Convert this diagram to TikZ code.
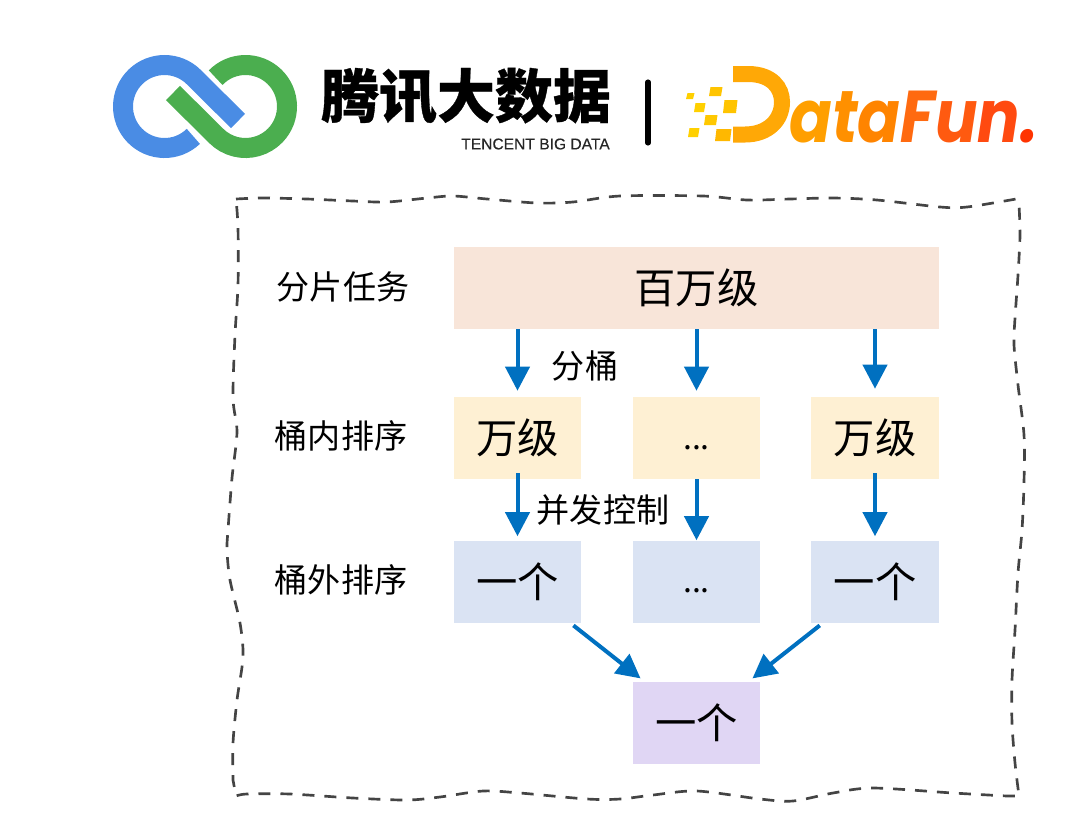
\documentclass[tikz,border=0pt]{standalone}
\usepackage{graphicx}
\usepackage{fontspec}
\setmainfont{Noto Sans CJK SC}
\newfontfamily\latinfont{Liberation Sans}
\newfontfamily\funfont{Poppins}
\usetikzlibrary{calc, arrows.meta}

\definecolor{shardfill}{HTML}{F8E5D9}
\definecolor{bucketfill}{HTML}{FEF0D3}
\definecolor{outerfill}{HTML}{DAE3F3}
\definecolor{mergefill}{HTML}{E0D6F4}
\definecolor{arrowblue}{HTML}{0070C0}
\definecolor{logoblue}{HTML}{4A8CE4}
\definecolor{logogreen}{HTML}{4BAE4F}
\definecolor{frameline}{HTML}{444444}
\definecolor{dshape}{HTML}{FFA806}

\newcommand{\moredots}{\smash{\raisebox{-8.5pt}{\fontsize{24}{24}\selectfont ...}}}

\tikzset{
  box/.style={minimum height=61.5pt, inner sep=0pt, font=\fontsize{31}{31}\selectfont},
  smallbox/.style={box, minimum width=95.5pt},
  rowlabel/.style={inner sep=0pt, font=\fontsize{24.8}{25}\selectfont},
  flow/.style={-{Triangle[length=18pt, width=18pt]}, arrowblue, line width=3pt},
  wavy/.style={frameline, line width=2pt, dash pattern=on 9pt off 7.5pt},
}

\begin{document}
\begin{tikzpicture}[x=0.75pt, y=-0.75pt]
\useasboundingbox (0,0) rectangle (1080,826);

% tencent logo
\coordinate (BC) at (164.5,106.5);
\coordinate (GC) at (245.5,106.5);
\draw[logoblue, line width=15pt]
  ($(BC)+(46:41.5)$) arc[start angle=46, end angle=315, radius=41.5] -- (238,121);
\draw[logogreen, line width=15pt]
  ($(GC)+(-136:41.5)$) arc[start angle=-136, end angle=135, radius=41.5] -- (173,93);
\node[inner sep=0pt, font=\fontsize{43.5}{44}\selectfont\bfseries\addfontfeature{FakeBold=0.6}] (tencent) at (466,96) {腾讯大数据};
\node[inner sep=0pt, font=\fontsize{11.7}{12}\selectfont\latinfont\addfontfeature{FakeBold=0.3}, text=black!85] (bigdata) at (535.5,144) {TENCENT BIG DATA};
\draw[black, line width=3.8pt, line cap=round] (648,82) -- (648,143);

% datafun logo
\foreach \x/\y/\w/\h/\c in {
  709/87/12/9/FFC400, 723/100/13/13/FFC400, 686/93/7/6/FFD000, 694/103/10/9/FFD000,
  704/115/12/10/FFC800, 688/128/10/9/FFD000, 715/129/15/12/FFB800}{
  \definecolor{pixelcol}{HTML}{\c}
  \fill[pixelcol] (\x+1.5,\y) -- ++(\w,0) -- ++(-1.5,\h) -- ++(-\w,0) -- cycle;
}
\draw[draw=dshape, line width=12pt]
  (733,74) -- (748,74) .. controls (772,74) and (782,88) .. (782,102)
  .. controls (782,120) and (768,134.5) .. (745,134.5) -- (733,134.5);
\node[anchor=base west, inner sep=0pt, font=\fontsize{55}{55}\selectfont\funfont\bfseries\itshape] (datafun) at (789,142)
  {\scalebox{0.86}[1]{\textcolor[HTML]{FF9F00}{a}\textcolor[HTML]{FF9000}{t}\textcolor[HTML]{FF8400}{a}\textcolor[HTML]{FF6A10}{F}\textcolor[HTML]{FF5A10}{u}\textcolor[HTML]{FF4A10}{n}\textcolor[HTML]{FF3300}{.}}};

% wavy frame
\draw[wavy] plot[smooth] coordinates {(236,199) (263,198) (307,199) (353,201) (387,202) (427,198) (453,196)
    (487,199) (537,203) (573,202) (620,196) (703,196) (747,200) (790,199) (833,198) (877,200) (940,207) (967,207) (1016,199)}
  -- plot[smooth] coordinates {(1019,205) (1020,235) (1018,275) (1015,318) (1014,345) (1018,385) (1024,435)
    (1024,482) (1022,530) (1018,573) (1015,630) (1012,680) (1012,723) (1015,763) (1019,796)}
  -- plot[smooth] coordinates {(1007,796) (953,793) (873,788) (833,793) (793,801) (760,799) (697,791) (653,795)
    (620,799) (587,799) (520,793) (483,791) (440,797) (407,800) (353,798) (290,794) (247,794) (236,796)}
  -- plot[smooth] coordinates {(233,780) (233,743) (237,700) (243,657) (240,623) (230,580) (227,550) (228,530)
    (232,478) (237,432) (233,398) (235,335) (238,285) (238,228) (236,199)};

% boxes
\node[box, fill=shardfill, minimum width=364pt] (shard) at (696.5,288) {百万级};
\node[smallbox, fill=bucketfill] (bucketA) at (517.5,438) {万级};
\node[smallbox, fill=bucketfill] (bucketB) at (696.5,438) {\moredots};
\node[smallbox, fill=bucketfill] (bucketC) at (875,438) {万级};
\node[smallbox, fill=outerfill] (outerA) at (517.5,581.5) {一个};
\node[smallbox, fill=outerfill] (outerB) at (696.5,581.5) {\moredots};
\node[smallbox, fill=outerfill] (outerC) at (875,581.5) {一个};
\node[smallbox, fill=mergefill] (merge) at (696.5,723) {一个};

% labels
\node[rowlabel] (labelshard) at (343,287) {分片任务};
\node[rowlabel] (labelinner) at (341,436) {桶内排序};
\node[rowlabel] (labelouter) at (341,580) {桶外排序};
\node[rowlabel] (labelsplit) at (585,366) {分桶};
\node[rowlabel] (labelctrl) at (603,510) {并发控制};

% arrows
\draw[flow, shorten >=4.5pt] (shard.south -| bucketA.north) -- (bucketA.north);
\draw[flow, shorten >=4.5pt] (shard.south -| bucketB.north) -- (bucketB.north);
\draw[flow, shorten >=6pt] (shard.south -| bucketC.north) -- (bucketC.north);
\draw[flow, shorten >=3pt] ([yshift=4.5pt]bucketA.south) -- (outerA.north);
\draw[flow] (bucketB.south) -- (outerB.north);
\draw[flow, shorten >=3pt] ([yshift=4.5pt]bucketC.south) -- (outerC.north);
\draw[flow] ([xshift=-6pt,yshift=-2pt]outerA.south east) -- ([xshift=6pt,yshift=2.5pt]merge.north west);
\draw[flow] ([xshift=6.5pt,yshift=-2pt]outerC.south west) -- ([xshift=-6pt,yshift=2.5pt]merge.north east);
\end{tikzpicture}
\end{document}
